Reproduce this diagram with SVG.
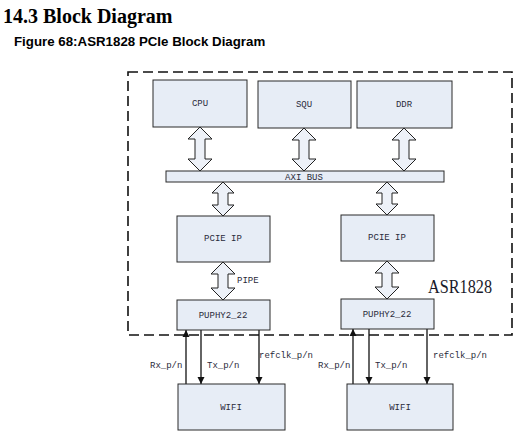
<svg xmlns="http://www.w3.org/2000/svg" width="528" height="433" viewBox="0 0 528 433">
<defs>
<style>
.box{fill:#e7edf6;stroke:#2a2a2a;stroke-width:1}
.dbl{fill:#edf1f8;stroke:#222;stroke-width:1;stroke-linejoin:miter}
.lbl{font-family:"Liberation Mono","DejaVu Sans Mono",monospace;font-size:9px;fill:#2a2a3a;text-anchor:middle}
.sig{font-family:"Liberation Mono","DejaVu Sans Mono",monospace;font-size:9px;fill:#2a2a3a}
.wire{stroke:#111;stroke-width:1.3;fill:none}
</style>
<marker id="ah" viewBox="0 0 10 10" refX="10" refY="5" markerWidth="7" markerHeight="10" markerUnits="userSpaceOnUse" orient="auto">
<path d="M0,0 L10,5 L0,10 Z" fill="#111"/>
</marker>
</defs>
<rect width="528" height="433" fill="#fff"/>
<text x="3" y="23" font-family="Liberation Serif,serif" font-weight="bold" font-size="20" fill="#000">14.3 Block Diagram</text>
<text x="14" y="46" font-family="Liberation Sans,Arial,sans-serif" font-weight="bold" font-size="13.3" fill="#000">Figure 68:ASR1828 PCIe Block Diagram</text>

<g id="asr1828">
<rect x="128" y="72" width="384" height="263" fill="none" stroke="#111" stroke-width="1.6" stroke-dasharray="10 5"/>
<text x="428" y="293" font-family="Liberation Serif,serif" font-size="18" fill="#1a1a2a" textLength="64" lengthAdjust="spacingAndGlyphs">ASR1828</text>
</g>

<g id="connectors">
<path class="dbl" d="M200,127 L212,139 L205,139 L205,159 L212,159 L200,171 L188,159 L195,159 L195,139 L188,139 Z"/>
<path class="dbl" d="M304,128 L316,140 L309,140 L309,159 L316,159 L304,171 L292,159 L299,159 L299,140 L292,140 Z"/>
<path class="dbl" d="M404,128 L416,140 L409,140 L409,159 L416,159 L404,171 L392,159 L399,159 L399,140 L392,140 Z"/>
<path class="dbl" d="M223,182 L234,193 L228,193 L228,205 L234,205 L223,216 L212,205 L218,205 L218,193 L212,193 Z"/>
<path class="dbl" d="M387,182 L398,193 L392,193 L392,204 L398,204 L387,215 L376,204 L382,204 L382,193 L376,193 Z"/>
<path class="dbl" d="M223,262 L235,274 L228,274 L228,288 L235,288 L223,300 L211,288 L218,288 L218,274 L211,274 Z"/>
<path class="dbl" d="M387,261 L399,273 L392,273 L392,287 L399,287 L387,299 L375,287 L382,287 L382,273 L375,273 Z"/>
<text class="sig" x="237" y="283">PIPE</text>
<line class="wire" x1="186" y1="384" x2="186" y2="330" marker-end="url(#ah)"/>
<line class="wire" x1="201" y1="330" x2="201" y2="384" marker-end="url(#ah)"/>
<line class="wire" x1="259" y1="330" x2="259" y2="384" marker-end="url(#ah)"/>
<line class="wire" x1="353" y1="384" x2="353" y2="329" marker-end="url(#ah)"/>
<line class="wire" x1="369" y1="329" x2="369" y2="384" marker-end="url(#ah)"/>
<line class="wire" x1="427" y1="329" x2="427" y2="384" marker-end="url(#ah)"/>
<text class="sig" x="150" y="368">Rx_p/n</text>
<text class="sig" x="207" y="368">Tx_p/n</text>
<text class="sig" x="259" y="358">refclk_p/n</text>
<text class="sig" x="318" y="368">Rx_p/n</text>
<text class="sig" x="375" y="368">Tx_p/n</text>
<text class="sig" x="433" y="358">refclk_p/n</text>
</g>

<g id="cpu"><rect class="box" x="153" y="80" width="94" height="47"/><text class="lbl" x="200" y="106">CPU</text></g>
<g id="squ"><rect class="box" x="258" y="81" width="93" height="47"/><text class="lbl" x="304" y="107">SQU</text></g>
<g id="ddr"><rect class="box" x="357" y="81" width="95" height="47"/><text class="lbl" x="404" y="107">DDR</text></g>
<g id="axi_bus"><rect class="box" x="166" y="171" width="278" height="11"/><text class="lbl" x="304" y="180">AXI BUS</text></g>
<g id="pcie_ip_1"><rect class="box" x="177" y="216" width="93" height="46"/><text class="lbl" x="223" y="241">PCIE IP</text></g>
<g id="pcie_ip_2"><rect class="box" x="341" y="215" width="93" height="46"/><text class="lbl" x="387" y="240">PCIE IP</text></g>
<g id="puphy_1"><rect class="box" x="177" y="300" width="93" height="30"/><text class="lbl" x="223" y="318">PUPHY2_22</text></g>
<g id="puphy_2"><rect class="box" x="341" y="299" width="93" height="30"/><text class="lbl" x="387" y="317">PUPHY2_22</text></g>
<g id="wifi_1"><rect class="box" x="178" y="384" width="107" height="46"/><text class="lbl" x="231" y="410">WIFI</text></g>
<g id="wifi_2"><rect class="box" x="347" y="384" width="106" height="46"/><text class="lbl" x="400" y="410">WIFI</text></g>
</svg>
